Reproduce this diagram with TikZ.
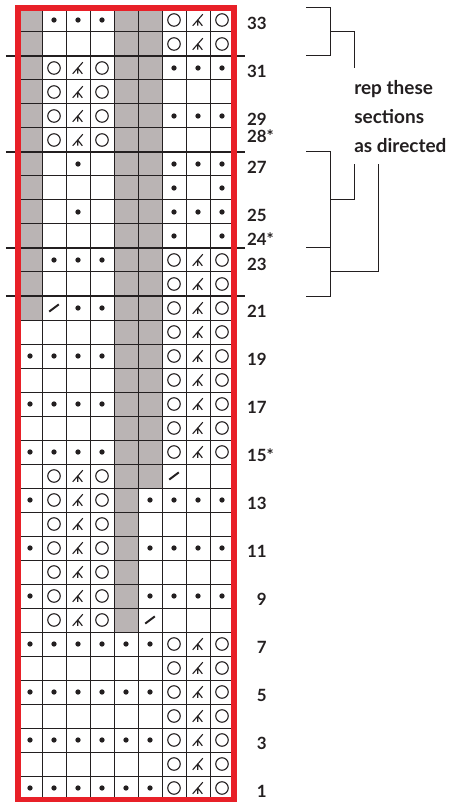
\documentclass[tikz,border=0pt]{standalone}
\usepackage{fontspec}
\setmainfont{Lato}
\definecolor{chartgray}{RGB}{186,180,180}
\definecolor{framered}{RGB}{232,32,40}
\definecolor{inkblack}{RGB}{35,31,32}
\tikzset{
  pics/cell-e/.style={code={}},
  pics/cell-g/.style={code={\fill[chartgray] (-0.5,-0.5) rectangle (0.5,0.5);}},
  pics/cell-d/.style={code={\fill[inkblack] (0,0) circle (0.11);}},
  pics/cell-o/.style={code={\draw[inkblack,line width=0.8pt] (0,0) circle (0.26);}},
  pics/cell-k/.style={code={\draw[inkblack,line width=0.8pt] (-0.22,-0.24) -- (0.2,0.24) (-0.01,0) -- (-0.01,-0.24) (-0.01,0) -- (0.18,-0.24);}},
  pics/cell-s/.style={code={\draw[inkblack,line width=1.4pt] (-0.2,-0.15) -- (0.2,0.15);}},
  rownum/.style={font=\fontsize{12}{14}\selectfont\bfseries, text=inkblack, anchor=base east, inner sep=0pt},
  bracket/.style={inkblack, line width=0.7pt},
}
\begin{document}
\begin{tikzpicture}[x=0.6cm, y=0.6cm]
\useasboundingbox (-0.75,-0.0833) rectangle (18,33.3333);

% chart cells, row by row from the top
\foreach \r/\cells in {
    33/{g,d,d,d,g,g,o,k,o},
    32/{g,e,e,e,g,g,o,k,o},
    31/{g,o,k,o,g,g,d,d,d},
    30/{g,o,k,o,g,g,e,e,e},
    29/{g,o,k,o,g,g,d,d,d},
    28/{g,o,k,o,g,g,e,e,e},
    27/{g,e,d,e,g,g,d,d,d},
    26/{g,e,e,e,g,g,d,e,d},
    25/{g,e,d,e,g,g,d,d,d},
    24/{g,e,e,e,g,g,d,e,d},
    23/{g,d,d,d,g,g,o,k,o},
    22/{g,e,e,e,g,g,o,k,o},
    21/{g,s,d,d,g,g,o,k,o},
    20/{e,e,e,e,g,g,o,k,o},
    19/{d,d,d,d,g,g,o,k,o},
    18/{e,e,e,e,g,g,o,k,o},
    17/{d,d,d,d,g,g,o,k,o},
    16/{e,e,e,e,g,g,o,k,o},
    15/{d,d,d,d,g,g,o,k,o},
    14/{e,o,k,o,g,g,s,e,e},
    13/{d,o,k,o,g,d,d,d,d},
    12/{e,o,k,o,g,e,e,e,e},
    11/{d,o,k,o,g,d,d,d,d},
    10/{e,o,k,o,g,e,e,e,e},
    9/{d,o,k,o,g,d,d,d,d},
    8/{e,o,k,o,g,s,e,e,e},
    7/{d,d,d,d,d,d,o,k,o},
    6/{e,e,e,e,e,e,o,k,o},
    5/{d,d,d,d,d,d,o,k,o},
    4/{e,e,e,e,e,e,o,k,o},
    3/{d,d,d,d,d,d,o,k,o},
    2/{e,e,e,e,e,e,o,k,o},
    1/{d,d,d,d,d,d,o,k,o}}
  {
    \foreach \s [count=\c] in \cells
      \pic at (\c-0.5,\r-0.5) {cell-\s};
  }

\draw [inkblack, line width=0.7pt, step=1] (0,0) grid (9,33);
	\foreach \y in {31,27,23,21}
		\draw [inkblack, line width=1.6pt] (-0.5,\y) -- (9.46,\y);
\draw [framered, line width=3.6pt] (0,0) rectangle (9,33);

% row numbers
\foreach \n/\y/\lab in {
    33/32.1/33, 31/30.1/31, 29/28.1/29, 28/27.375/28\rlap{*},
    27/26.1/27, 25/24.1/25, 24/23.12/24\rlap{*}, 23/22.08/23,
    21/20.1/21, 19/18.1/19, 17/16.1/17, 15/14.1/15\rlap{*},
    13/12.1/13, 11/10.1/11, 9/8.1/9, 7/6.1/7, 5/4.1/5, 3/2.1/3, 1/0.1/1}
  {
    \node [rownum] (n\n) at (10.375,\y) {\lab};
  }

\node [font=\fontsize{13.5}{20.6}\selectfont\bfseries, text=inkblack, align=left, anchor=north west, inner sep=0pt] (repnote) at (14,30) {rep these\\sections\\as directed};

% brackets and leaders
\coordinate (s1top) at (12,33);
\coordinate (s1mid) at (13,32);
\coordinate (s1bot) at (12,31);
\coordinate (s2top) at (12,27);
\coordinate (s2midA) at (13,25);
\coordinate (s2cut) at (12,23);
\coordinate (s2midB) at (13,22);
\coordinate (s2bot) at (12,21);
\coordinate (lead1) at (14,30.5);
\coordinate (lead2) at (14,26.5);
\coordinate (lead3) at (15,26.5);

\draw [bracket] (s1top) -- ++(1,0) |- (s1bot);
\draw [bracket] (s2top) -- ++(1,0) |- (s2bot);
\draw [bracket] (s2cut) -- ++(1,0);
\draw [bracket] (s1mid) -| (lead1);
\draw [bracket] (s2midA) -| (lead2);
\draw [bracket] (s2midB) -| (lead3);

\end{tikzpicture}
\end{document}
